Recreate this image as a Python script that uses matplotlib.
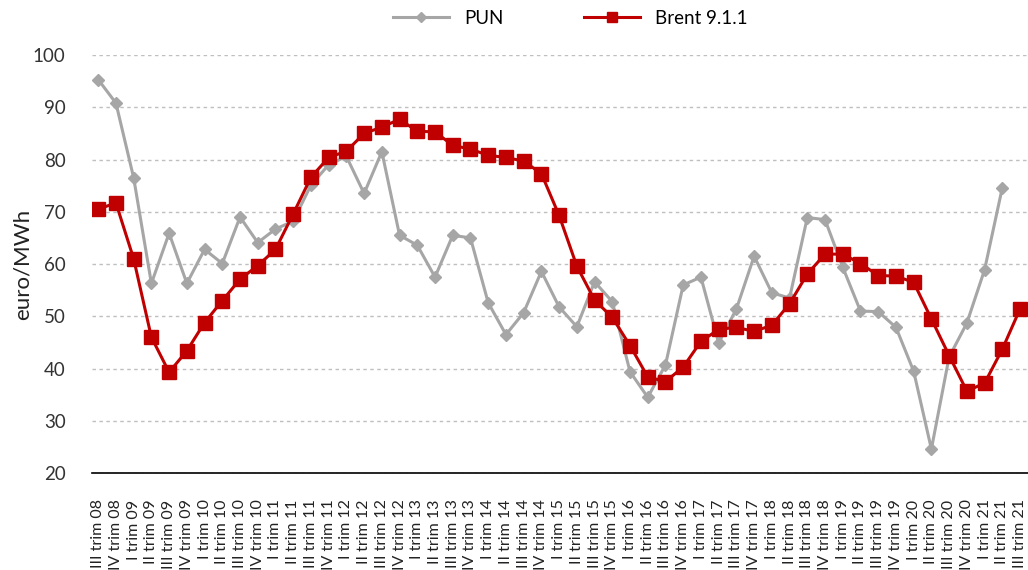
import numpy as np
import matplotlib
matplotlib.use("Agg")
import matplotlib.pyplot as plt

plt.rcParams['font.family'] = ['Lato', 'DejaVu Sans']

# trimestri da III 2008 a III 2021
quarters = ["III trim 08", "IV trim 08"]
for yy in range(9, 22):
    for q in ["I", "II", "III", "IV"]:
        quarters.append("%s trim %02d" % (q, yy))
quarters = quarters[:53]

pun = [95.3, 90.8, 76.5, 56.3, 65.9, 56.3, 62.8, 60.1, 69.0, 64.1,
       66.7, 68.2, 75.1, 79.0, 80.6, 73.5, 81.5, 65.5, 63.6, 57.5,
       65.5, 65.0, 52.6, 46.5, 50.7, 58.6, 51.8, 48.0, 56.6, 52.8,
       39.4, 34.5, 40.7, 56.0, 57.5, 44.9, 51.4, 61.5, 54.5, 53.5,
       68.9, 68.5, 59.4, 51.0, 50.9, 47.9, 39.5, 24.6, 42.2, 48.7,
       58.9, 74.6, np.nan]
brent = [70.5, 71.7, 61.0, 46.0, 39.3, 43.4, 48.8, 53.0, 57.1, 59.7,
         62.8, 69.6, 76.6, 80.4, 81.6, 85.0, 86.2, 87.7, 85.4, 85.3,
         82.7, 82.0, 80.8, 80.4, 79.7, 77.3, 69.3, 59.6, 53.1, 49.8,
         44.4, 38.4, 37.5, 40.3, 45.2, 47.5, 47.9, 47.1, 48.3, 52.4,
         58.1, 61.9, 61.9, 60.1, 57.8, 57.7, 56.5, 49.5, 42.5, 35.7,
         37.2, 43.7, 51.4]

x = np.arange(len(quarters))

fig = plt.figure(figsize=(10.28, 5.70), dpi=100)
ax = fig.add_axes([0.0895, 0.170, 0.9105, 0.7335])

ax.plot(x, pun, color="#A6A6A6", lw=2.2, marker="D", ms=6.5, label="PUN", zorder=3)
ax.plot(x, brent, color="#C00000", lw=2.2, marker="s", ms=9.5, label="Brent 9.1.1", zorder=4)

ax.set_ylim(20, 100)
ax.set_yticks(range(20, 101, 10))
ax.set_xlim(-0.35, 52.45)
ax.set_xticks(x)
ax.set_xticklabels(quarters, rotation=90, fontsize=11.5, color="#222222")
ax.tick_params(axis="x", length=0, pad=19)
ax.tick_params(axis="y", length=0, labelsize=13.5, labelcolor="#333333", pad=19)

ax.grid(axis="y", color="#BFBFBF", ls=(0, (2.5, 2.5)), lw=1)
for s in ["top", "right", "left"]:
    ax.spines[s].set_visible(False)
ax.spines["bottom"].set_color("black")
ax.spines["bottom"].set_linewidth(1.2)

ax.set_ylabel("euro/MWh", fontsize=16, color="#222222", labelpad=0)

fig.legend(loc="upper center", bbox_to_anchor=(0.555, 1.012), ncol=2, frameon=False,
           fontsize=13.5, handlelength=3.0, columnspacing=4.3, markerscale=0.8)

fig.savefig("out.png", dpi=100)
